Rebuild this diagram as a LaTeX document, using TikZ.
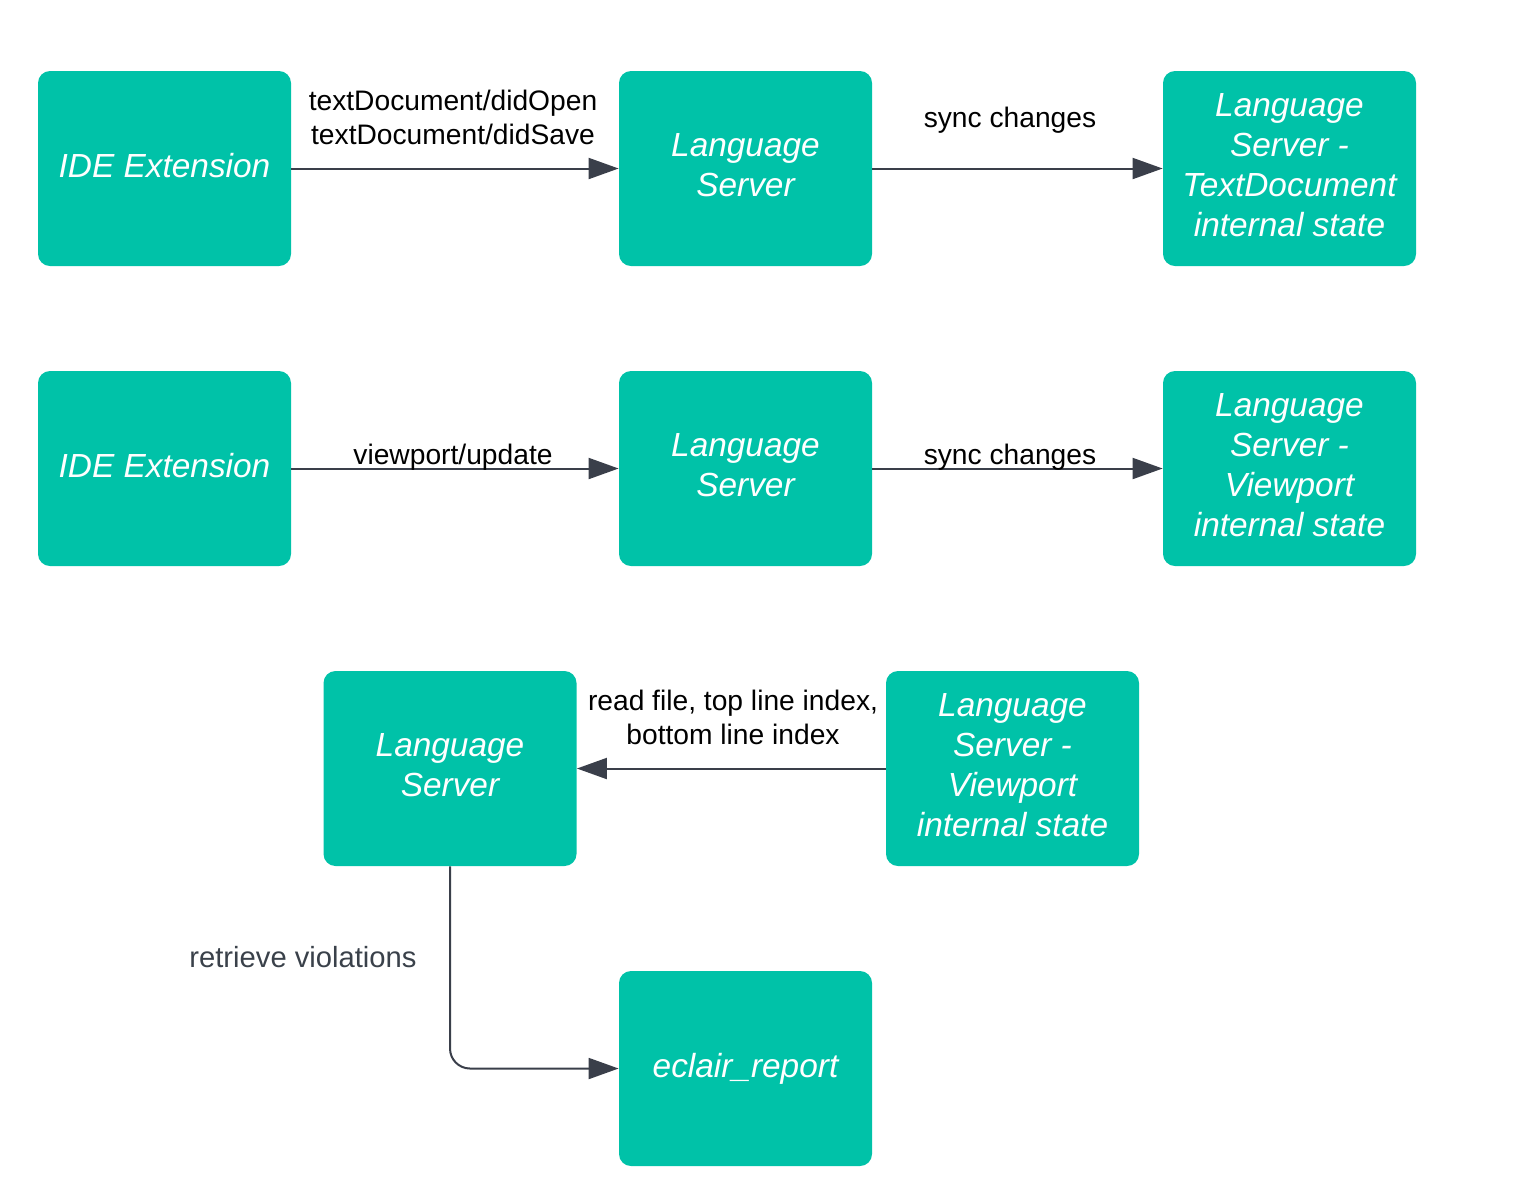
\documentclass[tikz,border=0pt]{standalone}
\usepackage{fontspec}
\setmainfont{Liberation Sans}
\usetikzlibrary{arrows.meta}
\definecolor{teal}{HTML}{00C2A8}
\definecolor{edge}{HTML}{3A3F4A}
\definecolor{graytxt}{HTML}{3A414A}
\begin{document}
\begin{tikzpicture}[x=0.5pt,y=-0.5pt,
  box/.style={fill=teal,draw=none,rounded corners=6pt,minimum width=126.5pt,minimum height=97.5pt,
    text=white,align=center,font=\itshape\fontsize{16.7}{20}\selectfont,inner sep=0pt,
    execute at end node={\rule[-3.6pt]{0pt}{0pt}}},
  conn/.style={draw=edge,line width=1pt,-{Triangle[length=15pt,width=10.5pt]}},
  lbl/.style={align=center,font=\fontsize{14.1}{17}\selectfont,text=black,inner sep=0pt},
]
\useasboundingbox (0,0) rectangle (1530,1196);
% row 1
\node[box] (ide1) at (164.5,168.5) {IDE Extension};
\node[box] (ls1) at (745.5,168.5) {Language\\Server};
\node[box] (td) at (1289.5,168.5) {Language\\Server -\\TextDocument\\internal state};
% row 2
\node[box] (ide2) at (164.5,468.5) {IDE Extension};
\node[box] (ls2) at (745.5,468.5) {Language\\Server};
\node[box] (vp1) at (1289.5,468.5) {Language\\Server -\\Viewport\\internal state};
% row 3
\node[box] (ls3) at (450,768.5) {Language\\Server};
\node[box] (vp2) at (1012.5,768.5) {Language\\Server -\\Viewport\\internal state};
\node[box] (ecl) at (745.5,1068.5) {eclair\_report};
% connectors
\draw[conn] (ide1.east) -- (ls1.west);
\draw[conn] (ls1.east) -- (td.west);
\draw[conn] (ide2.east) -- (ls2.west);
\draw[conn] (ls2.east) -- (vp1.west);
\draw[conn] (vp2.west) -- (ls3.east);
\draw[conn,rounded corners=10pt] (ls3.south) |- (ecl.west);
% labels
\node[lbl] (l1) at (453,117) {textDocument/didOpen\\textDocument/didSave};
\node[lbl] (l2) at (1010,120) {sync changes};
\node[lbl] (l3) at (453,457) {viewport/update};
\node[lbl] (l4) at (1010,457) {sync changes};
\node[lbl] (l5) at (733,717) {read file, top line index,\\bottom line index};
\node[lbl,text=graytxt,font=\fontsize{14.6}{17}\selectfont] (l6) at (303,957) {retrieve violations};
\end{tikzpicture}
\end{document}
